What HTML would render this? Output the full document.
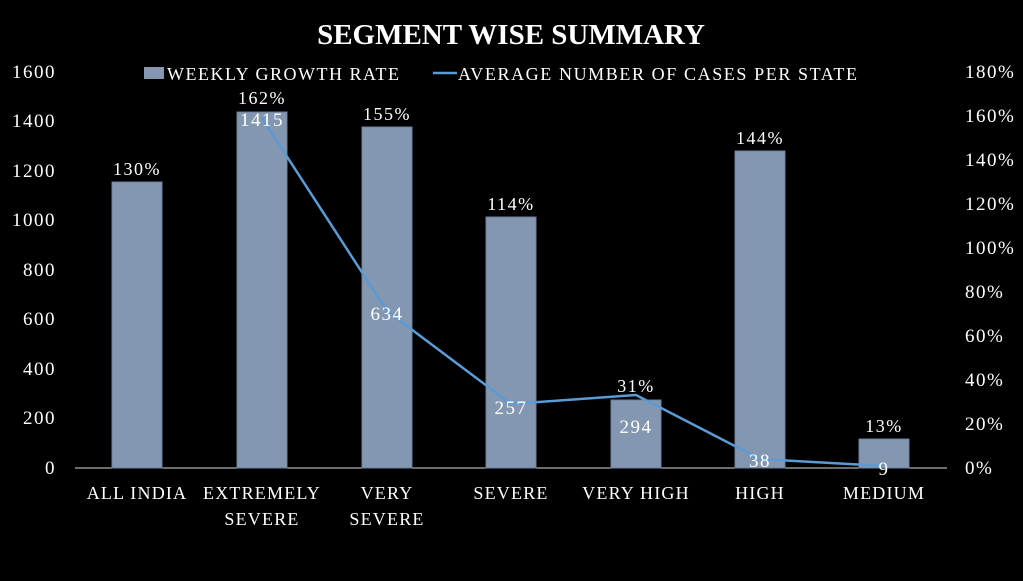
<!DOCTYPE html>
<html><head><meta charset="utf-8"><style>
html,body{margin:0;padding:0;background:#000;}
svg text{font-family:"Liberation Serif",serif;fill:#fff;}
</style></head><body>
<svg width="1023" height="576" viewBox="0 0 1023 576" xmlns="http://www.w3.org/2000/svg">
<rect width="1023" height="576" fill="#000"/>
<text x="511" y="44" font-size="29" font-weight="bold" text-anchor="middle" letter-spacing="0">SEGMENT WISE SUMMARY</text>
<!-- legend -->
<rect x="144" y="67" width="20" height="12" fill="#8497b0"/>
<text x="167" y="80" font-size="18" letter-spacing="1.5">WEEKLY GROWTH RATE</text>
<line x1="433" y1="73" x2="457" y2="73" stroke="#5b9bd5" stroke-width="2.5"/>
<text x="458" y="80" font-size="18" letter-spacing="1.6">AVERAGE NUMBER OF CASES PER STATE</text>
<!-- left axis -->
<g font-size="19" text-anchor="end" letter-spacing="1.5">
<text x="56" y="474">0</text><text x="56" y="424">200</text><text x="56" y="375">400</text><text x="56" y="325">600</text><text x="56" y="276">800</text><text x="56" y="226">1000</text><text x="56" y="177">1200</text><text x="56" y="127">1400</text><text x="56" y="78">1600</text>
</g>
<g font-size="19" text-anchor="start" letter-spacing="1.5">
<text x="965" y="474">0%</text><text x="965" y="430">20%</text><text x="965" y="386">40%</text><text x="965" y="342">60%</text><text x="965" y="298">80%</text><text x="965" y="254">100%</text><text x="965" y="210">120%</text><text x="965" y="166">140%</text><text x="965" y="122">160%</text><text x="965" y="78">180%</text>
</g>
<line x1="75" y1="468" x2="947" y2="468" stroke="#d9d9d9" stroke-width="1"/>
<!-- bars -->
<g fill="#8497b0" stroke="#6f819a" stroke-width="1">
<rect x="112" y="182" width="50" height="286"/>
<rect x="237" y="112" width="50" height="356"/>
<rect x="362" y="127" width="50" height="341"/>
<rect x="486" y="217" width="50" height="251"/>
<rect x="611" y="400" width="50" height="68"/>
<rect x="735" y="151" width="50" height="317"/>
<rect x="859" y="439" width="50" height="29"/>
</g>
<g font-size="18" text-anchor="middle" letter-spacing="1.5">
<text x="137" y="175">130%</text><text x="262" y="104">162%</text><text x="387" y="120">155%</text><text x="511" y="210">114%</text><text x="636" y="392">31%</text><text x="760" y="144">144%</text><text x="884" y="432">13%</text>
</g>
<polyline points="262,118 387,311 511,404 636,395 760,459 884,466" fill="none" stroke="#5b9bd5" stroke-width="2.5"/>
<g font-size="19" text-anchor="middle" letter-spacing="1.5">
<text x="262" y="126">1415</text><text x="387" y="320">634</text><text x="511" y="414">257</text><text x="636" y="433">294</text><text x="760" y="467">38</text><text x="884" y="475">9</text>
</g>
<g font-size="18" text-anchor="middle" letter-spacing="1.2">
<text x="137" y="499">ALL INDIA</text>
<text x="262" y="499">EXTREMELY</text><text x="262" y="525">SEVERE</text>
<text x="387" y="499">VERY</text><text x="387" y="525">SEVERE</text>
<text x="511" y="499">SEVERE</text>
<text x="636" y="499">VERY HIGH</text>
<text x="760" y="499">HIGH</text>
<text x="884" y="499">MEDIUM</text>
</g>
</svg>
</body></html>
